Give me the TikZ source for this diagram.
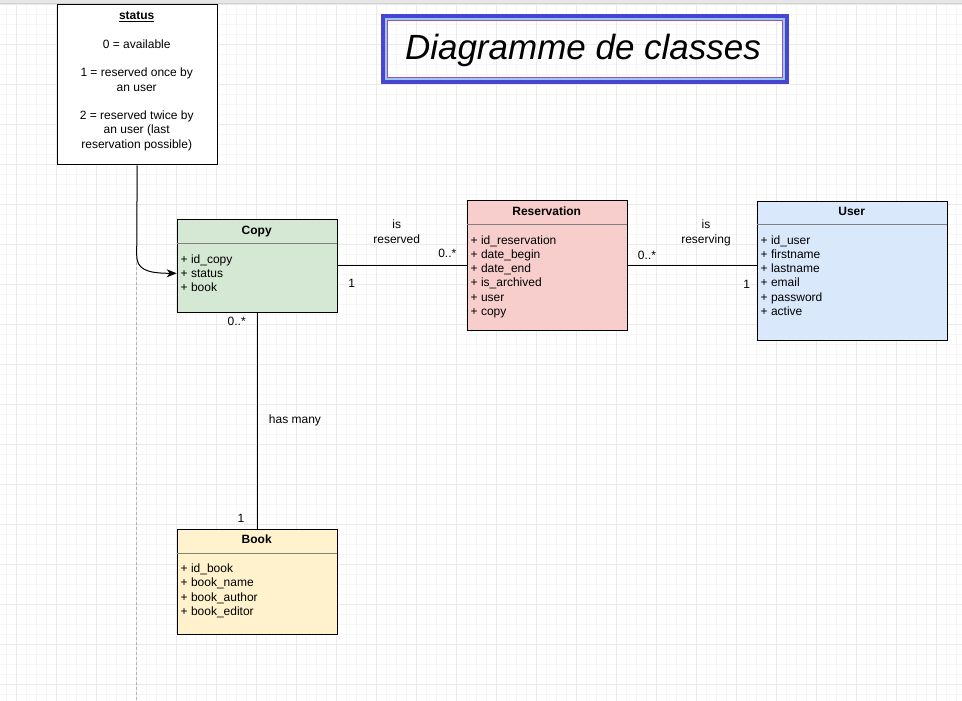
\documentclass[tikz,border=0pt]{standalone}
\usepackage{fontspec}
\setmainfont{Liberation Sans}
\usetikzlibrary{arrows.meta,calc}
\definecolor{gridminor}{HTML}{F6F6F6}
\definecolor{gridmajor}{HTML}{EAEAEA}
\definecolor{copyfill}{HTML}{D5E8D4}
\definecolor{bookfill}{HTML}{FFF2CC}
\definecolor{resafill}{HTML}{F8CECC}
\definecolor{userfill}{HTML}{DAE8FC}
\definecolor{sepgray}{HTML}{808080}
\definecolor{titleblue}{HTML}{4646D2}
\definecolor{titlelight}{HTML}{9CC8F0}
\definecolor{titlepurple}{HTML}{9C50B4}
\definecolor{pagebreak}{HTML}{B4B4B4}
\definecolor{topbar}{HTML}{E6E6E6}
\definecolor{topline}{HTML}{D2D2D2}
\begin{document}
\begin{tikzpicture}[x=1pt,y=-1pt,
  classbox/.style={draw=black, line width=1pt, rectangle, inner sep=0pt, anchor=north west},
  classname/.style={font=\fontsize{12}{14.3}\selectfont\bfseries, anchor=base, inner sep=0pt},
  attrs/.style={font=\fontsize{12}{14.3}\selectfont, anchor=north west, align=left, inner sep=0pt},
  lbl/.style={font=\fontsize{12}{14.3}\selectfont, inner sep=0pt, anchor=base},
  mlbl/.style={font=\fontsize{12}{14.3}\selectfont, inner sep=0pt, anchor=north, align=center},
  sepline/.style={draw=sepgray, line width=1pt},
  conn/.style={draw=black, line width=1pt}]
\useasboundingbox (0,0) rectangle (962,701);
% background grid
\fill[white] (0,0) rectangle (962,701);
\foreach \i in {0,...,95} {\draw[gridminor, line width=1pt] (6.7+10*\i,0) -- (6.7+10*\i,701);}
\foreach \i in {0,...,69} {\draw[gridminor, line width=1pt] (0,4.3+10*\i) -- (962,4.3+10*\i);}
\foreach \i in {0,...,23} {\draw[gridmajor, line width=1pt] (16.7+40*\i,0) -- (16.7+40*\i,701);}
\foreach \i in {0,...,17} {\draw[gridmajor, line width=1pt] (0,4.3+40*\i) -- (962,4.3+40*\i);}
\fill[topbar] (0,0) rectangle (962,3);
\draw[topline, line width=1pt] (0,3.5) -- (962,3.5);
% page break line
\draw[pagebreak, line width=1pt, dash pattern=on 3pt off 2pt] (136.7,257) -- (136.7,701);
% title
\draw[titleblue, line width=4pt] (383,16) rectangle (787,82.5);
\draw[titlelight, line width=2pt] (386,19) rectangle (784,79.5);
\draw[titlepurple, line width=1pt] (387.5,20.5) rectangle (782.5,78);
\node[font=\fontsize{35}{42}\selectfont\itshape, inner sep=0pt, anchor=base] (title) at (583,60) {Diagramme de classes};
% status note
\node[classbox, fill=white, minimum width=160pt, minimum height=160pt] (status) at (56.7,4.3) {};
\node[mlbl] (statustext) at (136.7,10.3) {\rule{0pt}{9pt}\underline{\textbf{status}}\\[14.3pt]
0 = available\\[14.3pt]
1 = reserved once by\\
an user\\[14.3pt]
2 = reserved twice by\\
an user (last\\
reservation possible)};
% Copy
\node[classbox, fill=copyfill, minimum width=160pt, minimum height=92.4pt] (copy) at (176.7,219.3) {};
\node[classname] (copyname) at (256.7,234.3) {Copy};
\draw[sepline] (176.7,243.3) -- (336.7,243.3);
\node[attrs] (copyattrs) at (180.5,254) {\rule{0pt}{9pt}+ id\_copy\\+ status\\+ book};
% Reservation
\node[classbox, fill=resafill, minimum width=160pt, minimum height=130pt] (resa) at (466.7,200) {};
\node[classname] (resaname) at (546.7,215.3) {Reservation};
\draw[sepline] (466.7,224.5) -- (626.7,224.5);
\node[attrs] (resaattrs) at (470.5,234.8) {\rule{0pt}{9pt}+ id\_reservation\\+ date\_begin\\+ date\_end\\+ is\_archived\\+ user\\+ copy};
% User
\node[classbox, fill=userfill, minimum width=190pt, minimum height=139.3pt] (user) at (756.7,200.7) {};
\node[classname] (username) at (851.7,215.2) {User};
\draw[sepline] (756.7,224) -- (946.7,224);
\node[attrs] (userattrs) at (760.5,234.8) {\rule{0pt}{9pt}+ id\_user\\+ firstname\\+ lastname\\+ email\\+ password\\+ active};
% Book
\node[classbox, fill=bookfill, minimum width=160pt, minimum height=105pt] (book) at (176.7,529.3) {};
\node[classname] (bookname) at (256.7,543.6) {Book};
\draw[sepline] (176.7,553.3) -- (336.7,553.3);
\node[attrs] (bookattrs) at (180.5,563.3) {\rule{0pt}{9pt}+ id\_book\\+ book\_name\\+ book\_author\\+ book\_editor};
% connectors
\coordinate (copyin) at (176.7,273.3);
\coordinate (bend) at (136.7,255);
\draw[conn, -{Stealth[length=10pt,width=8pt,inset=3pt]}] (status.south) -- (bend) .. controls (136.7,269) and (146,273.3) .. (copyin);
\draw[conn] (resa.west) -- (resa.west -| copy.east);
\draw[conn] (resa.east) -- (resa.east -| user.west);
\draw[conn] (copy.south) -- (book.north);
% labels
\node[mlbl] (isreserved) at (396.7,219.5) {\rule{0pt}{9pt}is\\reserved};
\node[lbl] (m1) at (447.3,257.8) {0..*};
\node[lbl] (m2) at (351.7,287) {1};
\node[mlbl] (isreserving) at (706,219.5) {\rule{0pt}{9pt}is\\reserving};
\node[lbl] (m3) at (647,259.3) {0..*};
\node[lbl] (m4) at (746.7,288.3) {1};
\node[lbl] (m5) at (236.7,325) {0..*};
\node[lbl] (hasmany) at (295,423.6) {has many};
\node[lbl] (m6) at (241,522.6) {1};
\end{tikzpicture}
\end{document}
